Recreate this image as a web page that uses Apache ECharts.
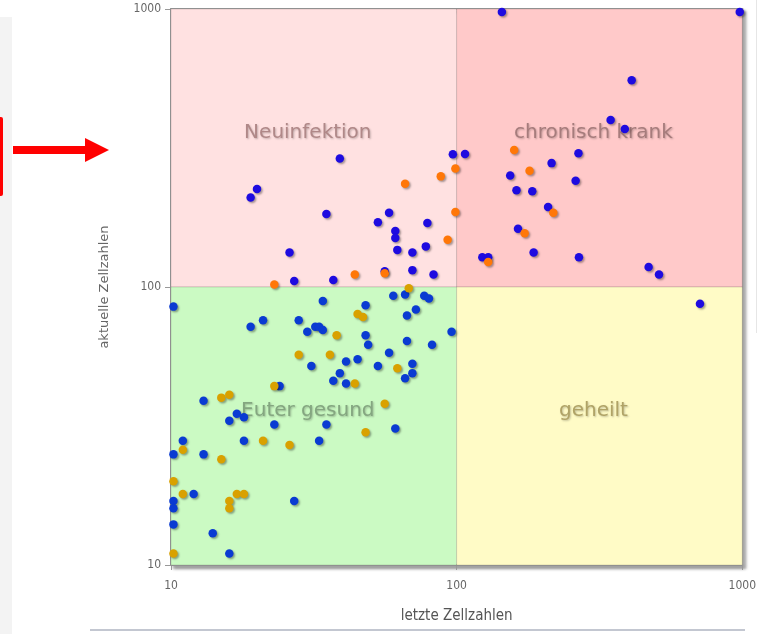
<!DOCTYPE html>
<html>
<head>
<meta charset="utf-8">
<script src="https://cdn.jsdelivr.net/npm/echarts@6/dist/echarts.min.js"></script>
<style>
html,body{margin:0;padding:0;background:#fff;}
#chart{width:759px;height:634px;}
</style>
</head>
<body>
<div id="chart"></div>
<script>
// Axis ticks
const xTicks = [10, 100, 1000];
const yTicks = [10, 100, 1000];
const xAxisTitle = 'letzte Zellzahlen';
const yAxisTitle = 'aktuelle Zellzahlen';

// Quadrants
const quadrantNames = ['Neuinfektion', 'chronisch krank', 'Euter gesund', 'geheilt'];
const quadrantX = [[10, 100], [100, 1000], [10, 100], [100, 1000]];
const quadrantY = [[100, 1000], [100, 1000], [10, 100], [10, 100]];

// Blue points, upper half (actual >= 100) and right/lower
const blueUpper = [
  [39, 290], [20, 225], [19, 210], [35, 183], [58, 185], [53, 171], [79, 170],
  [61, 159], [61, 150], [62, 136], [70, 133], [78, 140], [26, 133], [27, 105],
  [37, 106], [56, 114], [70, 115], [83, 111], [97, 300],
  [144, 975], [980, 975], [410, 554], [346, 399], [388, 370], [107, 301],
  [267, 303], [215, 279], [154, 252], [162, 223], [184, 221], [261, 241],
  [209, 194], [164, 162], [186, 133], [123, 128], [129, 128], [268, 128],
  [470, 118], [511, 111], [711, 87]
];
// Blue points, lower-left quadrant
const blueLower = [
  [96, 69], [10.2, 85], [34, 89], [60, 93], [66, 94], [77, 93], [80, 91],
  [48, 86], [72, 83], [67, 79], [19, 72], [21, 76], [28, 76], [30, 69],
  [32, 72], [33, 72], [34, 70], [48, 67], [49, 62], [67, 64], [82, 62],
  [58, 58], [45, 55], [41, 54], [53, 52], [70, 53], [70, 49], [66, 47],
  [31, 52], [39, 49], [37, 46], [41, 45], [24, 44], [13, 39], [17, 35],
  [18, 34], [16, 33], [23, 32], [35, 32], [61, 31], [11, 28], [18, 28],
  [33, 28], [10.2, 25], [13, 25], [12, 18], [10.2, 17], [10.2, 16], [27, 17],
  [10.2, 14], [14, 13], [16, 11]
];
// Orange points (upper half)
const orangePoints = [
  [66, 235], [88, 250], [99, 267], [99, 186], [93, 148], [44, 111], [56, 112],
  [23, 102], [159, 311], [180, 262], [218, 185], [173, 156], [129, 123]
];
// Gold points (lower-left quadrant)
const goldPoints = [
  [68, 99], [45, 80], [47, 78], [38, 67], [28, 57], [36, 57], [62, 51],
  [44, 45], [23, 44], [15, 40], [16, 41], [56, 38], [48, 30], [21, 28],
  [26, 27], [11, 26], [15, 24], [10.2, 20], [11, 18], [17, 18], [18, 18],
  [16, 17], [16, 16], [10.2, 11]
];

const quadFill = ['#ffe1e1', '#ffc9c9', '#cbfac3', '#fffbc6'];
const quadText = ['#b08888', '#a67c7c', '#84a680', '#b0a366'];

const chart = echarts.init(document.getElementById('chart'), null, {renderer: 'canvas'});

const markData = quadrantNames.map((name, i) => [
  {
    name: name,
    xAxis: quadrantX[i][0], yAxis: quadrantY[i][0],
    itemStyle: {color: quadFill[i], borderColor: 'rgba(0,0,0,0.13)', borderWidth: 1},
    label: {color: quadText[i]}
  },
  {xAxis: quadrantX[i][1], yAxis: quadrantY[i][1]}
]);

const pointShadow = {
  shadowColor: 'rgba(0,0,0,0.35)', shadowBlur: 2, shadowOffsetX: 1.5, shadowOffsetY: 1.5
};

function pointSeries(name, data, color) {
  return {
    name: name, type: 'scatter', data: data, z: 5,
    symbol: 'circle', symbolSize: 8.5,
    itemStyle: Object.assign({color: color, opacity: 1}, pointShadow),
    emphasis: {disabled: true}
  };
}

const plainNumber = v => String(Math.round(v));

const option = {
  animation: false,
  backgroundColor: '#fff',
  grid: {
    left: 171, right: 16, top: 9, bottom: 69,
    show: true, backgroundColor: '#fff',
    borderColor: '#9a9a9a', borderWidth: 2,
    shadowColor: 'rgba(0,0,0,0.35)', shadowBlur: 3, shadowOffsetX: 3, shadowOffsetY: 3
  },
  xAxis: {
    type: 'log', logBase: 10, min: xTicks[0], max: xTicks[xTicks.length - 1],
    name: xAxisTitle, nameLocation: 'middle', nameGap: 44,
    nameTextStyle: {color: '#555', fontSize: 15, fontFamily: 'DejaVu Sans Condensed'},
    axisLine: {show: true, lineStyle: {color: '#9a9a9a', width: 1}},
    axisTick: {show: true, length: 5, lineStyle: {color: '#999'}},
    minorTick: {show: false},
    splitLine: {show: false},
    axisLabel: {color: '#666', fontSize: 12, margin: 15, fontFamily: 'DejaVu Sans Condensed', formatter: plainNumber}
  },
  yAxis: {
    type: 'log', logBase: 10, min: yTicks[0], max: yTicks[yTicks.length - 1],
    name: yAxisTitle, nameLocation: 'middle', nameGap: 60,
    nameTextStyle: {color: '#666', fontSize: 13, fontFamily: 'DejaVu Sans'},
    axisLine: {show: true, lineStyle: {color: '#9a9a9a', width: 1}},
    axisTick: {show: true, length: 6, lineStyle: {color: '#999'}},
    splitLine: {show: false},
    axisLabel: {color: '#666', fontSize: 12, margin: 10, fontFamily: 'DejaVu Sans Condensed', formatter: plainNumber}
  },
  graphic: [
    {type: 'rect', silent: true, z: -1, shape: {x: 0, y: 17, width: 12, height: 617}, style: {fill: '#f3f3f3'}},
    {type: 'rect', silent: true, z: 10, shape: {x: -4, y: 117, width: 7, height: 79, r: 2}, style: {fill: '#ff0000'}},
    {type: 'line', silent: true, z: 10, shape: {x1: 13, y1: 150, x2: 88, y2: 150}, style: {stroke: '#ff0000', lineWidth: 8}},
    {type: 'polygon', silent: true, z: 10, shape: {points: [[85, 138], [109, 150], [85, 162]]}, style: {fill: '#ff0000'}},
    {type: 'line', silent: true, z: 10, shape: {x1: 90, y1: 630, x2: 745, y2: 630}, style: {stroke: '#c3c7d1', lineWidth: 2}},
    {type: 'line', silent: true, z: 10, shape: {x1: 756.5, y1: 0, x2: 756.5, y2: 333}, style: {stroke: '#e6e6e6', lineWidth: 1}}
  ],
  series: [
    {
      type: 'scatter', data: [], z: 1,
      markArea: {
        silent: true,
        label: {
          show: true, position: 'inside', offset: [-6, -15],
          fontSize: 20, fontFamily: 'DejaVu Sans',
          textShadowColor: 'rgba(0,0,0,0.25)', textShadowBlur: 2, textShadowOffsetX: 1, textShadowOffsetY: 1
        },
        data: markData
      }
    },
    pointSeries('blau', blueUpper, '#1e0be0'),
    pointSeries('blau2', blueLower, '#0a3bd2'),
    pointSeries('orange', orangePoints, '#ff7708'),
    pointSeries('gold', goldPoints, '#d9a100')
  ]
};
chart.setOption(option);
</script>
</body>
</html>
